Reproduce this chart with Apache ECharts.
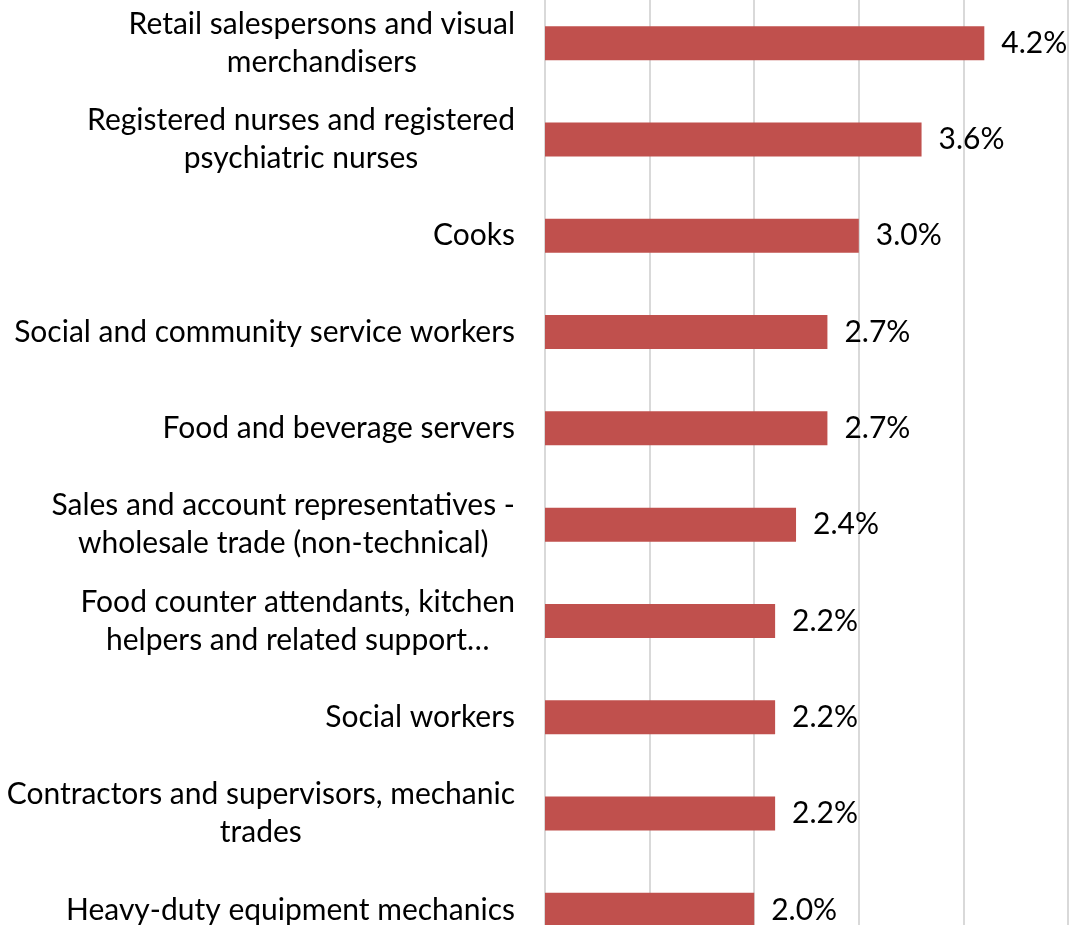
<!DOCTYPE html>
<html>
<head>
<meta charset="utf-8">
<style>
  html, body { margin: 0; padding: 0; background: #ffffff; }
  #chart { width: 1083px; height: 925px; }
</style>
<script src="https://cdn.jsdelivr.net/npm/echarts@6/dist/echarts.min.js"></script>
</head>
<body>
<div id="chart"></div>
<script>
// Occupations, top to bottom, with manual line breaks for long names
const occupations = [
  'Retail salespersons and visual\nmerchandisers',
  'Registered nurses and registered\npsychiatric nurses',
  'Cooks',
  'Social and community service workers',
  'Food and beverage servers',
  'Sales and account representatives -\nwholesale trade (non-technical)',
  'Food counter attendants, kitchen\nhelpers and related support…',
  'Social workers',
  'Contractors and supervisors, mechanic\ntrades',
  'Heavy-duty equipment mechanics'
];

// Share of job postings (%)
const shares = [4.2, 3.6, 3.0, 2.7, 2.7, 2.4, 2.2, 2.2, 2.2, 2.0];

const FONT = 'Lato, "Open Sans", sans-serif';
const chart = echarts.init(document.getElementById('chart'), null, { renderer: 'canvas' });

chart.setOption({
  animation: false,
  backgroundColor: '#ffffff',
  // plot area runs past the lower edge of the canvas
  grid: {
    left: 545,
    width: 523,
    top: -5,
    height: 963,
    containLabel: false,
    outerBoundsMode: 'none'
  },
  xAxis: {
    type: 'value',
    min: 0,
    max: 5,
    interval: 1,
    axisLabel: { show: false },
    axisLine: { show: false },
    axisTick: { show: false },
    splitLine: { show: true, lineStyle: { color: '#d9d9d9', width: 2 } }
  },
  yAxis: {
    type: 'category',
    inverse: true,
    data: occupations,
    axisLine: { show: true, lineStyle: { color: '#d9d9d9', width: 2 } },
    axisTick: { show: false },
    axisLabel: {
      margin: 30,
      align: 'right',
      color: '#000000',
      fontFamily: FONT,
      fontSize: 30,
      lineHeight: 38,
      // every line centred inside the label block
      formatter: function (v) {
        return v.split('\n').map(function (l) { return '{c|' + l + '}'; }).join('\n');
      },
      rich: {
        c: { align: 'center', color: '#000000', fontFamily: FONT, fontSize: 30, lineHeight: 38 }
      }
    }
  },
  series: [{
    type: 'bar',
    data: shares,
    barWidth: 34,
    itemStyle: { color: '#c0504d' },
    label: {
      show: true,
      position: 'right',
      distance: 17,
      color: '#000000',
      fontFamily: FONT,
      fontSize: 30,
      formatter: function (p) { return p.value.toFixed(1) + '%'; }
    }
  }]
});
</script>
</body>
</html>
